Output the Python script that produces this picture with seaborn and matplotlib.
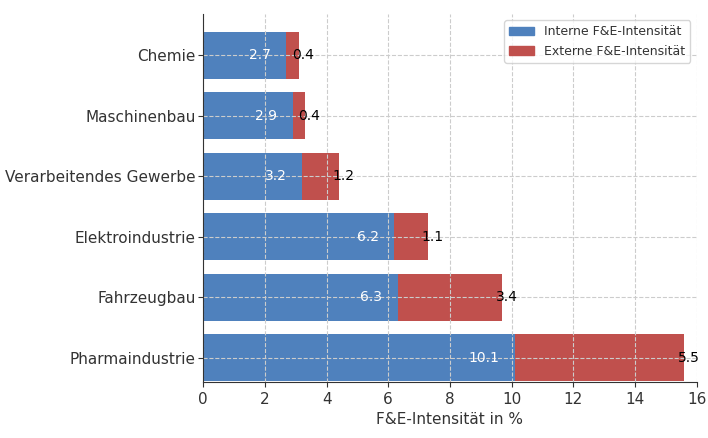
import matplotlib
matplotlib.use("Agg")
import matplotlib.pyplot as plt
import seaborn as sns
import pandas as pd
from matplotlib.patches import Patch

branchen = ["Chemie", "Maschinenbau", "Verarbeitendes Gewerbe",
            "Elektroindustrie", "Fahrzeugbau", "Pharmaindustrie"]
intern = [2.7, 2.9, 3.2, 6.2, 6.3, 10.1]
extern = [0.4, 0.4, 1.2, 1.1, 3.4, 5.5]

blau = "#4f81bd"
rot = "#c0504d"
textfarbe = "#333333"

df = pd.DataFrame({"Branche": branchen, "Intern": intern, "Extern": extern})
df["Gesamt"] = df["Intern"] + df["Extern"]

fig = plt.figure(figsize=(7.08, 4.38), dpi=100)
ax = fig.add_axes([0.287, 0.128, 0.697, 0.84])

# stacked bars: total in red, internal share in blue on top
sns.barplot(data=df, y="Branche", x="Gesamt", color=rot, orient="h",
            width=0.78, ax=ax, saturation=1, order=branchen)
sns.barplot(data=df, y="Branche", x="Intern", color=blau, orient="h",
            width=0.78, ax=ax, saturation=1, order=branchen)

for i, (vi, ve) in enumerate(zip(intern, extern)):
    ax.text(vi - 0.5, i, f"{vi}", ha="right", va="center",
            color="white", fontsize=10)
    ax.text(vi + ve + 0.5, i, f"{ve}", ha="right", va="center",
            color="black", fontsize=10)

ax.set_xlim(0, 16)
ax.set_xticks(range(0, 17, 2))
ax.set_ylim(5.4, -0.68)
ax.set_xlabel("F&E-Intensität in %", fontsize=11, color=textfarbe)
ax.set_ylabel("")
ax.tick_params(axis="both", labelsize=11, labelcolor=textfarbe,
               color=textfarbe, length=3.5)
ax.tick_params(axis="y", pad=2)
ax.grid(True, linestyle="--", color="#cccccc", linewidth=0.8)
ax.set_axisbelow(False)
for s in ["top", "right"]:
    ax.spines[s].set_visible(False)
for s in ["left", "bottom"]:
    ax.spines[s].set_color(textfarbe)
    ax.spines[s].set_zorder(5)

handles = [Patch(color=blau, label="Interne F&E-Intensität"),
           Patch(color=rot, label="Externe F&E-Intensität")]
leg = ax.legend(handles=handles, loc="upper right", fontsize=9)
for t in leg.get_texts():
    t.set_color(textfarbe)

fig.savefig("out.png", dpi=100)
